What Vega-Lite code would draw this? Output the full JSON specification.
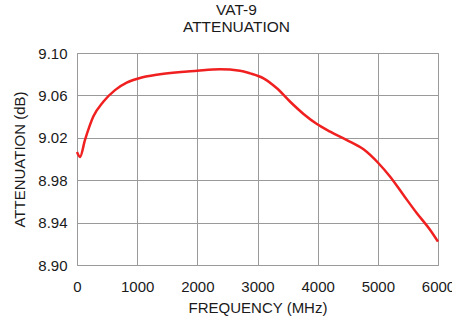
{
  "$schema": "https://vega.github.io/schema/vega-lite/v6.json",
  "autosize": "none",
  "width": 361,
  "height": 212,
  "padding": {"left": 77, "top": 53, "right": 14, "bottom": 54},
  "background": "white",
  "config": {
    "font": "Liberation Sans",
    "view": {"stroke": "#9a9a9a", "strokeWidth": 1}
  },
  "title": {
    "text": ["VAT-9", "ATTENUATION"],
    "fontSize": 15.5,
    "fontWeight": "normal",
    "color": "#1a1a1a",
    "lineHeight": 17,
    "offset": 11,
    "dx": -21,
    "anchor": "middle"
  },
  "data": {
    "values": [
      {"f": 0, "a": 9.0066},
      {"f": 50, "a": 9.002},
      {"f": 133, "a": 9.018},
      {"f": 271, "a": 9.04},
      {"f": 437, "a": 9.054},
      {"f": 632, "a": 9.065},
      {"f": 826, "a": 9.072},
      {"f": 1019, "a": 9.076},
      {"f": 1379, "a": 9.08},
      {"f": 2000, "a": 9.0833},
      {"f": 2377, "a": 9.0846},
      {"f": 2709, "a": 9.0833},
      {"f": 2878, "a": 9.0808},
      {"f": 3100, "a": 9.0761},
      {"f": 3322, "a": 9.0667},
      {"f": 3543, "a": 9.054},
      {"f": 3765, "a": 9.0425},
      {"f": 3987, "a": 9.033},
      {"f": 4208, "a": 9.0258},
      {"f": 4485, "a": 9.0179},
      {"f": 4762, "a": 9.0091},
      {"f": 5011, "a": 8.996},
      {"f": 5205, "a": 8.9833},
      {"f": 5426, "a": 8.966},
      {"f": 5649, "a": 8.9488},
      {"f": 5870, "a": 8.933},
      {"f": 6000, "a": 8.922}
    ]
  },
  "mark": {"type": "line", "color": "#f02020", "strokeWidth": 2.5, "interpolate": "monotone"},
  "encoding": {
    "x": {
      "field": "f",
      "type": "quantitative",
      "scale": {"domain": [0, 6000], "nice": false},
      "axis": {
        "title": "FREQUENCY (MHz)",
        "values": [0, 1000, 2000, 3000, 4000, 5000, 6000],
        "format": "d",
        "labelFontSize": 15,
        "titleFontSize": 15,
        "titleFontWeight": "normal",
        "labelColor": "#1a1a1a",
        "titleColor": "#1a1a1a",
        "tickSize": 0,
        "labelPadding": 14,
        "titlePadding": 6,
        "domain": false,
        "gridColor": "#9a9a9a",
        "gridOpacity": 1,
        "labelFlush": false
      }
    },
    "y": {
      "field": "a",
      "type": "quantitative",
      "scale": {"domain": [8.9, 9.1], "nice": false, "zero": false},
      "axis": {
        "title": "ATTENUATION (dB)",
        "values": [8.9, 8.94, 8.98, 9.02, 9.06, 9.1],
        "format": ".2f",
        "labelFontSize": 15,
        "titleFontSize": 15,
        "titleFontWeight": "normal",
        "labelColor": "#1a1a1a",
        "titleColor": "#1a1a1a",
        "tickSize": 0,
        "labelPadding": 10,
        "titlePadding": 10,
        "domain": false,
        "gridColor": "#9a9a9a",
        "gridOpacity": 1,
        "labelFlush": false
      }
    }
  }
}
